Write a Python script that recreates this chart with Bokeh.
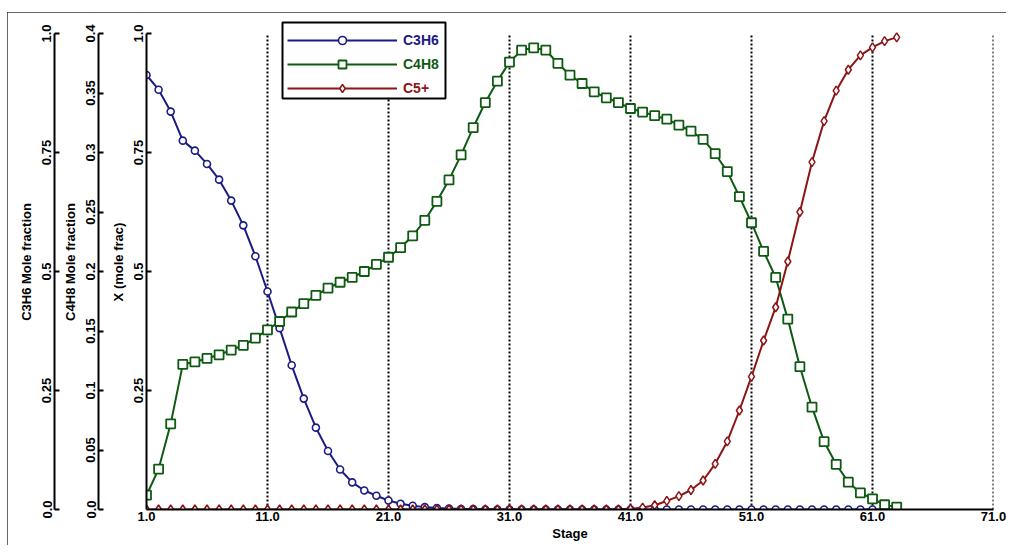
from bokeh.plotting import figure
from bokeh.models import (Range1d, LinearAxis, FixedTicker, CustomJSTickFormatter,
                          Legend, LegendItem, BoxAnnotation)
from bokeh.embed import file_html
from bokeh.resources import INLINE

# ---------------- data ----------------
stages = list(range(1, 64))

c3h6 = [0.913, 0.882, 0.836, 0.775, 0.754, 0.726, 0.693, 0.649, 0.597, 0.532,
        0.458, 0.381, 0.303, 0.233, 0.172, 0.123, 0.084, 0.057, 0.040, 0.029,
        0.019, 0.012, 0.008, 0.005, 0.003, 0.002, 0.001, 0.001, 0.0, 0.0,
        0.0, 0.0, 0.0, 0.0, 0.0, 0.0, 0.0, 0.0, 0.0, 0.0,
        0.0, 0.0, 0.0, 0.0, 0.0, 0.0, 0.0, 0.0, 0.0, 0.0,
        0.0, 0.0, 0.0, 0.0, 0.0, 0.0, 0.0, 0.0, 0.0, 0.0,
        0.0, 0.0, 0.0]

c4h8 = [0.012, 0.034, 0.072, 0.122, 0.124, 0.127, 0.130, 0.134, 0.138, 0.144,
        0.151, 0.158, 0.166, 0.173, 0.180, 0.186, 0.191, 0.195, 0.200, 0.206,
        0.212, 0.220, 0.230, 0.243, 0.259, 0.277, 0.298, 0.321, 0.342, 0.360,
        0.376, 0.386, 0.388, 0.386, 0.375, 0.365, 0.358, 0.351, 0.346, 0.342,
        0.337, 0.334, 0.331, 0.328, 0.323, 0.318, 0.311, 0.299, 0.284, 0.263,
        0.241, 0.217, 0.195, 0.160, 0.120, 0.086, 0.057, 0.038, 0.023, 0.014,
        0.009, 0.004, 0.002]

c5plus = [0.0, 0.0, 0.0, 0.0, 0.0, 0.0, 0.0, 0.0, 0.0, 0.0,
          0.0, 0.0, 0.0, 0.0, 0.0, 0.0, 0.0, 0.0, 0.0, 0.0,
          0.0, 0.0, 0.0, 0.0, 0.0, 0.0, 0.0, 0.0, 0.0, 0.0,
          0.0, 0.0, 0.0, 0.0, 0.0, 0.0, 0.0, 0.0, 0.0, 0.0,
          0.001, 0.004, 0.009, 0.018, 0.028, 0.041, 0.061, 0.096, 0.143, 0.208,
          0.279, 0.355, 0.425, 0.521, 0.625, 0.730, 0.816, 0.880, 0.924, 0.954,
          0.971, 0.984, 0.992]

series_names = ["C3H6", "C4H8", "C5+"]

x_ticks = [1, 11, 21, 31, 41, 51, 61, 71]
x_tick_labels = ["1.0", "11.0", "21.0", "31.0", "41.0", "51.0", "61.0", "71.0"]
grid_ticks = [11, 21, 31, 41, 51, 61, 71]

main_ticks = [0.25, 0.5, 0.75, 1.0]
main_tick_labels = ["0.25", "0.5", "0.75", "1.0"]

c3h6_ticks = [0.0, 0.25, 0.5, 0.75, 1.0]
c3h6_tick_labels = ["0.0", "0.25", "0.5", "0.75", "1.0"]

c4h8_ticks = [0.0, 0.05, 0.1, 0.15, 0.2, 0.25, 0.3, 0.35, 0.4]
c4h8_tick_labels = ["0.0", "0.05", "0.1", "0.15", "0.2", "0.25", "0.3", "0.35", "0.4"]

# ---------------- styles ----------------
FONT = "Liberation Sans"
BLUE = "#1b1b84"
GREEN = "#0f5a12"
RED = "#8c1414"
HEAD = 1.04  # headroom above the axes top so the legend box is not clipped

p = figure(width=999, height=533, output_backend="svg", toolbar_location=None,
           x_range=Range1d(1, 71), y_range=Range1d(0, HEAD),
           min_border_left=139, min_border_right=13, min_border_top=2,
           min_border_bottom=36, margin=(12, 0, 0, 7))
p.styles = {"outline": "1px solid #333333", "outline-offset": "-1px"}
p.outline_line_color = None
p.background_fill_color = "white"
p.border_fill_color = "white"

p.extra_y_ranges = {"c3h6": Range1d(0, HEAD), "c4h8": Range1d(0, 0.4 * HEAD)}


def style_axis(ax, ticks, labels, title):
    ax.ticker = FixedTicker(ticks=ticks)
    ax.formatter = CustomJSTickFormatter(
        args=dict(lbls=labels, tv=ticks),
        code="const i = tv.findIndex(t => Math.abs(t - tick) < 1e-9); return i >= 0 ? lbls[i] : '';")
    ax.axis_label = title
    ax.axis_line_color = "black"
    ax.axis_line_width = 2
    ax.major_tick_line_color = "black"
    ax.major_tick_line_width = 2
    ax.major_tick_in = 5
    ax.major_tick_out = 0
    ax.minor_tick_line_color = None
    ax.major_label_text_font = FONT
    ax.major_label_text_font_style = "bold"
    ax.major_label_text_font_size = "13px"
    ax.major_label_text_color = "black"
    ax.major_label_standoff = 3
    ax.axis_label_text_font = FONT
    ax.axis_label_text_font_style = "bold"
    ax.axis_label_text_font_size = "13px"
    ax.axis_label_text_color = "black"
    ax.axis_label_standoff = 6


def spacer(px):
    return LinearAxis(y_range_name="c3h6", ticker=FixedTicker(ticks=[]),
                      axis_line_color=None, major_tick_line_color=None,
                      minor_tick_line_color=None, major_tick_in=0, major_tick_out=0,
                      minor_tick_in=0, minor_tick_out=0, major_label_standoff=0,
                      major_label_text_font_size="1px", axis_label="I",
                      axis_label_text_alpha=0.0, axis_label_standoff=0,
                      axis_label_text_font_size=f"{px}px")


# main y axis
main_ax = p.yaxis[0]
style_axis(main_ax, main_ticks, main_tick_labels, "X (mole frac)")
main_ax.major_label_orientation = "vertical"
main_ax.bounds = (0, 1)

p.add_layout(spacer(6), "left")

ax4 = LinearAxis(y_range_name="c4h8")
style_axis(ax4, c4h8_ticks, c4h8_tick_labels, "C4H8 Mole fraction")
ax4.major_label_orientation = "vertical"
ax4.bounds = (0, 0.4)
p.add_layout(ax4, "left")

p.add_layout(spacer(2), "left")

ax3 = LinearAxis(y_range_name="c3h6")
style_axis(ax3, c3h6_ticks, c3h6_tick_labels, "C3H6 Mole fraction")
ax3.major_label_orientation = "vertical"
ax3.bounds = (0, 1)
p.add_layout(ax3, "left")

# x axis
xa = p.xaxis[0]
style_axis(xa, x_ticks, x_tick_labels, "Stage")
xa.major_tick_in = 0
xa.major_label_standoff = 2
xa.axis_label_standoff = 2

# dotted vertical grid lines at the stage ticks, limited to the axes height
p.xgrid.visible = False
p.ygrid.visible = False
p.segment(x0=grid_ticks, y0=[0] * len(grid_ticks), x1=grid_ticks,
          y1=[1] * len(grid_ticks), line_color="black", line_width=2,
          line_dash="2 2")

# ---------------- series ----------------
l1 = p.line(stages, c3h6, y_range_name="c3h6", line_color=BLUE, line_width=2)
s1 = p.scatter(stages, c3h6, y_range_name="c3h6", marker="circle", size=7,
               line_color=BLUE, line_width=1.6, fill_color="white")

l2 = p.line(stages, c4h8, y_range_name="c4h8", line_color=GREEN, line_width=2)
s2 = p.scatter(stages, c4h8, y_range_name="c4h8", marker="square", size=9,
               line_color=GREEN, line_width=1.8, fill_color="white")

l3 = p.line(stages, c5plus, line_color=RED, line_width=2)
s3 = p.scatter(stages, c5plus, marker="diamond", size=9,
               line_color=RED, line_width=1.5, fill_color="white")

renderer_pairs = [[l1, s1], [l2, s2], [l3, s3]]
colors = [BLUE, GREEN, RED]

# legend frame (white box with black border) behind the legend entries
p.add_layout(BoxAnnotation(left=12.24, right=25.71, bottom=0.8634, top=1.0231,
                           fill_color="white", fill_alpha=1.0,
                           line_color="black", line_width=2, line_alpha=1.0))

common = dict(padding=4, spacing=4, glyph_width=110, glyph_height=20,
              label_height=20, label_standoff=6, label_text_font=FONT,
              label_text_font_style="bold", label_text_font_size="14px",
              border_line_color=None, background_fill_alpha=0.0)

# one legend per series so each label carries its series colour
LEG_X, LEG_Y, ROW = 141, 411, 24
for i, (n, r, c) in enumerate(zip(series_names, renderer_pairs, colors)):
    lg = Legend(items=[LegendItem(label=n, renderers=r)],
                location=(LEG_X, LEG_Y + (2 - i) * ROW), label_text_color=c,
                **common)
    p.add_layout(lg)

open("out.html", "w").write(file_html(p, INLINE))
